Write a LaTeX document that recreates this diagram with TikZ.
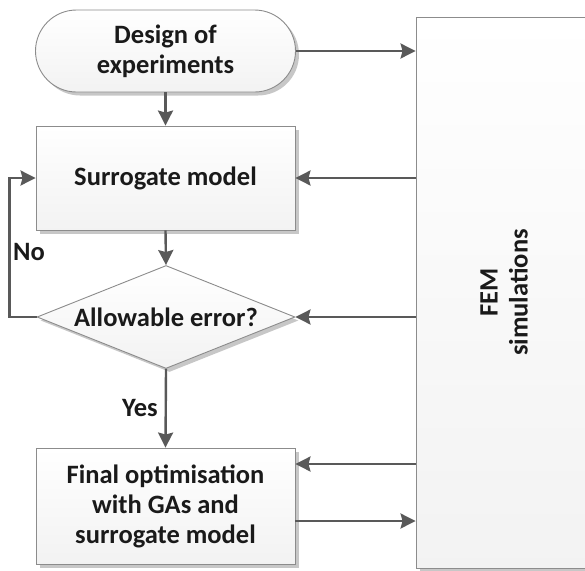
\documentclass[tikz,border=0pt]{standalone}
\usepackage{fontspec}
\setmainfont{Carlito}
\usetikzlibrary{arrows.meta,shapes.geometric,shadows}
\definecolor{linec}{HTML}{595959}
\definecolor{bordc}{HTML}{8C8C8C}
\definecolor{txtc}{HTML}{1A1A1A}
\tikzset{
  boxbase/.style={draw=bordc, line width=0.9pt, top color=white, bottom color=black!5,
    drop shadow={shadow xshift=3.5pt, shadow yshift=-3.5pt, fill=black!22, opacity=1},
    inner sep=0pt, text=txtc, font=\bfseries\fontsize{26.5}{30}\selectfont, align=center},
  procbox/.style={boxbase, rectangle, minimum width=259pt, minimum height=104pt},
  termbox/.style={boxbase, rectangle, rounded corners=41pt, minimum width=260pt, minimum height=82pt},
  dia/.style={boxbase, diamond, minimum width=258pt, minimum height=103pt},
  fembox/.style={draw=bordc, line width=0.9pt, top color=white, bottom color=black!5,
    drop shadow={shadow xshift=3.5pt, shadow yshift=-3.5pt, fill=black!22, opacity=1},
    rectangle, inner sep=0pt, minimum width=176pt, minimum height=551pt},
  lbl/.style={text=txtc, font=\bfseries\fontsize{26.5}{30}\selectfont, align=center, inner sep=0pt},
  arr/.style={draw=linec, line width=2.4pt, -{Stealth[length=15pt, width=15pt, inset=2pt]}},
}
\begin{document}
\begin{tikzpicture}[x=1pt,y=-1pt]
\useasboundingbox (0,0) rectangle (585,570);
\node[fembox] (fem) at (504,292.5) {};
\node[lbl, rotate=90] (femtxt) at (fem.center) {FEM\\simulations};
\node[termbox] (ter) at (165.5,51) {Design of\\experiments};
\node[procbox] (sur) at (165.5,178) {Surrogate model};
\node[dia] (dec) at (166,317) {};
\node[lbl] (dectxt) at (dec.center) {Allowable error?};
\node[procbox, minimum height=116pt] (fin) at (165.5,506) {Final optimisation\\with GAs and\\surrogate model};
\node[lbl] (no) at (29,252) {No};
\node[lbl] (yes) at (140,408) {Yes};
\draw[arr] (ter.south) -- (sur.north);
\draw[arr] (sur.south) -- (dec.north);
\draw[arr] (dec.south) -- (fin.north);
\draw[arr] (dec.west) -- ++(-27,0) |- (sur.west);
\draw[arr] (ter.east) -- (ter.east -| fem.west);
\draw[arr] (sur.east -| fem.west) -- (sur.east);
\draw[arr] (dec.east -| fem.west) -- (dec.east);
\draw[arr] ([yshift=42pt]fin.east -| fem.west) -- ([yshift=42pt]fin.east);
\draw[arr] ([yshift=-15pt]fin.east) -- ([yshift=-15pt]fin.east -| fem.west);
\end{tikzpicture}
\end{document}
